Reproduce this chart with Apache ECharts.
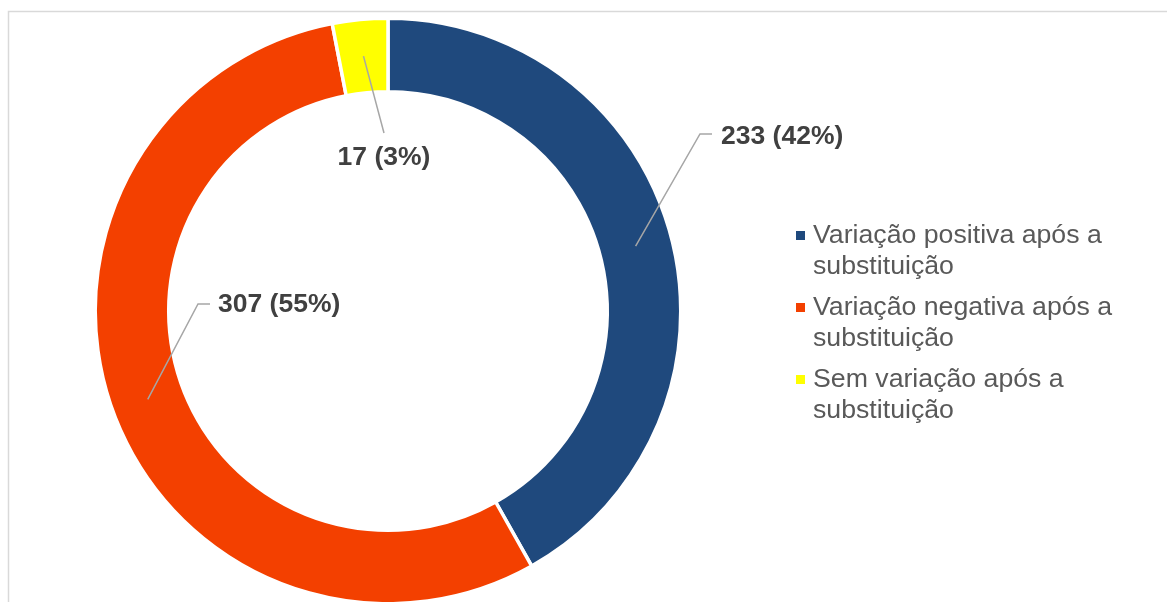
<!DOCTYPE html>
<html>
<head>
<meta charset="utf-8">
<script src="https://cdn.jsdelivr.net/npm/echarts@6/dist/echarts.min.js"></script>
<style>
  html, body { margin: 0; padding: 0; background: #fff; }
  #chart { width: 1167px; height: 602px; }
</style>
</head>
<body>
<div id="chart"></div>
<script>
const categories = [
  'Variação positiva após a\nsubstituição',
  'Variação negativa após a\nsubstituição',
  'Sem variação após a\nsubstituição'
];
const values = [233, 307, 17];
const colors = ['#1f497d', '#f34000', '#ffff00'];

// ring geometry (px)
const cx = 388, cy = 311;
const rIn = 221, rOut = 291;
const border = 3.5;

// where each label goes
const labelSpots = [
  { elbow: [700, 134], end: [712, 134], text: [721, 137], align: 'left', va: 'middle' },
  { elbow: [198, 304], end: [210, 304], text: [218, 305], align: 'left', va: 'middle' },
  { elbow: [384, 133], end: [384, 133], text: [384, 144], align: 'center', va: 'top' }
];

const total = values.reduce((a, b) => a + b, 0);
const midAngles = [];
let acc = 0;
values.forEach(v => {
  midAngles.push((acc + v / 2) / total * Math.PI * 2);
  acc += v;
});

const pieData = categories.map((name, i) => ({ name: name, value: values[i] }));

const chart = echarts.init(document.getElementById('chart'));

const option = {
  animation: false,
  color: colors,
  graphic: [{
    type: 'rect',
    shape: { x: 8.5, y: 11.5, width: 1400, height: 800 },
    style: { fill: 'none', stroke: '#d9d9d9', lineWidth: 1.5 },
    silent: true,
    z: -1
  }],
  legend: {
    orient: 'vertical',
    left: 796,
    top: 189,
    padding: 0,
    icon: 'rect',
    itemWidth: 9,
    itemHeight: 9,
    itemGap: -21,
    itemStyle: { borderWidth: 0 },
    // blank first line keeps the marker level with the first text line
    formatter: name => '\n' + name,
    textStyle: {
      fontFamily: 'Liberation Sans, Arial, sans-serif',
      fontSize: 26.7,
      color: '#595959',
      lineHeight: 31,
      padding: [0, 0, 0, 3]
    },
    data: categories
  },
  series: [{
    // the coloured ring
    type: 'pie',
    center: [cx, cy],
    radius: [rIn - border / 2, rOut + border / 2],
    startAngle: 90,
    clockwise: true,
    itemStyle: { borderColor: '#fff', borderWidth: border },
    emphasis: { disabled: true },
    label: { show: false },
    labelLine: { show: false },
    data: pieData
  }, {
    // invisible copy on top so the leader lines sit over the ring
    type: 'pie',
    z: 5,
    silent: true,
    center: [cx, cy],
    radius: [rIn, rOut],
    startAngle: 90,
    clockwise: true,
    avoidLabelOverlap: false,
    itemStyle: { color: 'rgba(0,0,0,0)', borderWidth: 0 },
    emphasis: { disabled: true },
    label: {
      show: true,
      formatter: p => p.value + ' (' + Math.round(p.percent) + '%)',
      fontFamily: 'Liberation Sans, Arial, sans-serif',
      fontWeight: 'bold',
      fontSize: 26.5,
      color: '#404040'
    },
    labelLine: {
      show: true,
      lineStyle: { color: '#a6a6a6', width: 1.5 }
    },
    labelLayout: function (params) {
      const i = params.dataIndex;
      const s = labelSpots[i];
      const rMid = (rIn + rOut) / 2;
      const sx = cx + rMid * Math.sin(midAngles[i]);
      const sy = cy - rMid * Math.cos(midAngles[i]);
      return {
        x: s.text[0],
        y: s.text[1],
        align: s.align,
        verticalAlign: s.va,
        labelLinePoints: [[sx, sy], s.elbow, s.end]
      };
    },
    data: pieData
  }]
};

chart.setOption(option);
</script>
</body>
</html>
